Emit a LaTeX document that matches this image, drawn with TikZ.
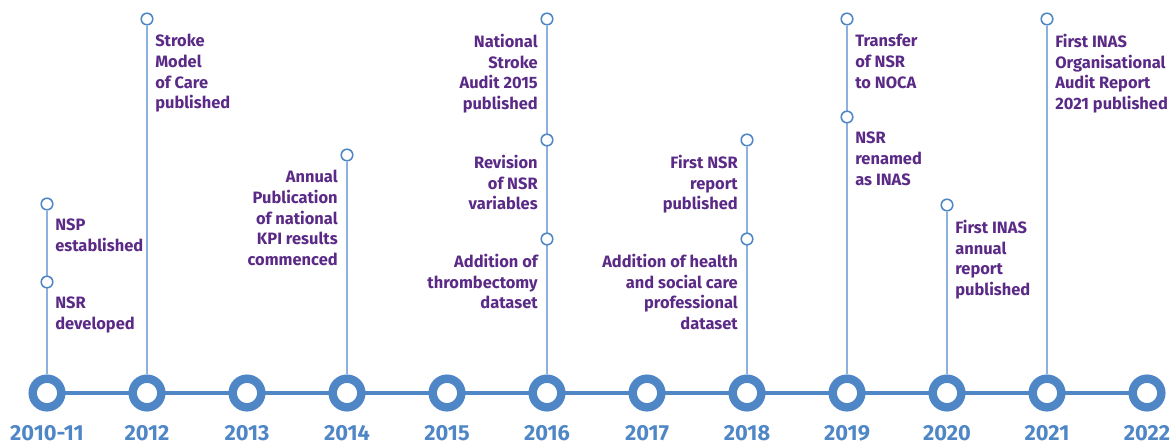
\documentclass[tikz,border=0pt]{standalone}
\usepackage{fontspec}
\setmainfont{Fira Sans}
\usetikzlibrary{positioning, backgrounds}
\definecolor{tlblue}{HTML}{4F86C6}
\definecolor{tlline}{HTML}{8DB1DE}
\definecolor{tlpurple}{HTML}{5A2A86}
\tikzset{ring/.style={circle,draw=tlblue,fill=white,line width=6pt,minimum size=0.715cm,inner sep=0},
	punkt/.style={circle,draw=tlblue,fill=white,line width=1.1pt,minimum size=0.29cm,inner sep=0},
	rechts/.style={ereignis,anchor=north west,align=left,xshift=5.7pt,yshift=-10.6pt},
	links/.style={ereignis,anchor=north east,align=right,xshift=-6.4pt,yshift=-10.6pt},
	ereignis/.style={font=\bfseries\fontsize{11.7}{14.7}\selectfont,text=tlpurple,inner sep=0},
	jahr/.style={font=\bfseries\fontsize{15.5}{18}\selectfont,text=tlblue,anchor=base,inner sep=0},
	stiel/.style={draw=tlline,line width=1.1pt},
	achse/.style={draw=tlblue,line width=3.5pt} }

\begin{document}
\begin{tikzpicture}[x=0.025cm, y=-0.025cm]
  \useasboundingbox (0,0) rectangle (1176,443);

  % years along the axis
  \foreach \jahr [count=\i] in {2010-11,2012,2013,2014,2015,2016,2017,2018,2019,2020,2021,2022} {
    \node (j\i) [ring] at ({47+100*(\i-1)},393) {};
    \node (l\i) [jahr] at ({47+100*(\i-1)},440) {\jahr};
  }

  % events
  \node (p1a) [punkt] at (47,204) {};
  \node (p1b) [punkt] at (47,282) {};
  \node (p2a) [punkt] at (147,19) {};
  \node (p4a) [punkt] at (347,155) {};
  \node (p6a) [punkt] at (547,19) {};
  \node (p6b) [punkt] at (547,140) {};
  \node (p6c) [punkt] at (547,239) {};
  \node (p8a) [punkt] at (747,140) {};
  \node (p8b) [punkt] at (747,239) {};
  \node (p9a) [punkt] at (847,19) {};
  \node (p9b) [punkt] at (847,117) {};
  \node (p10a) [punkt] at (947,205) {};
  \node (p11a) [punkt] at (1047,19) {};

  \node (t1a) [rechts] at (p1a.center) {NSP\\established};
  \node (t1b) [rechts] at (p1b.center) {NSR\\developed};
  \node (t2a) [rechts] at (p2a.center) {Stroke\\Model\\of Care\\published};
  \node (t4a) [links] at (p4a.center) {Annual\\Publication\\of national\\KPI results\\commenced};
  \node (t6a) [links] at (p6a.center) {National\\Stroke\\Audit 2015\\published};
  \node (t6b) [links] at (p6b.center) {Revision\\of NSR\\variables};
  \node (t6c) [links] at (p6c.center) {Addition of\\thrombectomy\\dataset};
  \node (t8a) [links] at (p8a.center) {First NSR\\report\\published};
  \node (t8b) [links] at (p8b.center) {Addition of health\\and social care\\professional\\dataset};
  \node (t9a) [rechts] at (p9a.center) {Transfer\\of NSR\\to NOCA};
  \node (t9b) [rechts] at (p9b.center) {NSR\\renamed\\as INAS};
  \node (t10a) [rechts] at (p10a.center) {First INAS\\annual\\report\\published};
  \node (t11a) [rechts] at (p11a.center) {First INAS\\Organisational\\Audit Report\\2021 published};

  \begin{scope}[on background layer]
    \draw [achse] (j1.center) -- (j12.center);
    \draw [stiel] (p1a) -- (j1);
    \draw [stiel] (p2a) -- (j2);
    \draw [stiel] (p4a) -- (j4);
    \draw [stiel] (p6a) -- (j6);
    \draw [stiel] (p8a) -- (j8);
    \draw [stiel] (p9a) -- (j9);
    \draw [stiel] (p10a) -- (j10);
    \draw [stiel] (p11a) -- (j11);
  \end{scope}
\end{tikzpicture}
\end{document}
